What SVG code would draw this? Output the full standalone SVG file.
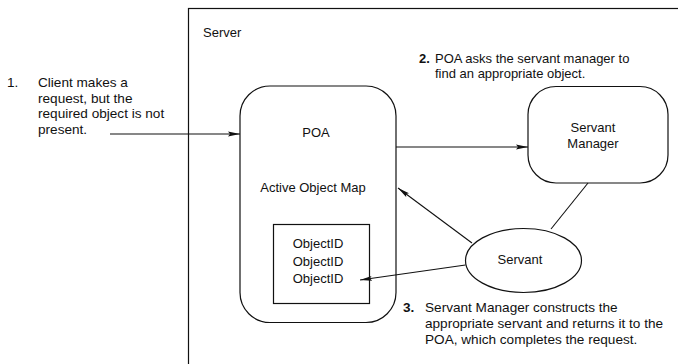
<svg xmlns="http://www.w3.org/2000/svg" width="678" height="364" viewBox="0 0 678 364">
<style>
  text { font-family: "Liberation Sans", Arial, sans-serif; font-size: 13px; fill: #111; }
  .c { text-anchor: middle; }
  .b { font-weight: bold; }
  .w { font-size: 13.6px; }
  .shape { fill: #fff; stroke: #111; stroke-width: 1.2; }
  .edge { fill: none; stroke: #111; stroke-width: 1.1; }
</style>
<defs>
  <marker id="ah" viewBox="0 0 12 6" refX="12" refY="3" markerWidth="12" markerHeight="6" markerUnits="userSpaceOnUse" orient="auto">
    <path d="M0,0.6 L12,3 L0,5.4 L2,3 Z" fill="#111"/>
  </marker>
</defs>
<rect width="678" height="364" fill="#fff"/>
<g id="server">
  <rect class="shape" x="188.5" y="8.5" width="520" height="380"/>
  <text x="203" y="37">Server</text>
</g>
<g id="poa">
  <rect class="shape" x="240" y="86" width="156" height="236.5" rx="30" ry="30"/>
  <text class="c" x="316" y="137">POA</text>
  <text class="c" x="313" y="192">Active Object Map</text>
</g>
<g id="object-ids">
  <rect class="shape" x="273.5" y="224.5" width="96" height="79"/>
  <text class="c" x="318" y="248">ObjectID</text>
  <text class="c" x="318" y="266">ObjectID</text>
  <text class="c" x="318" y="283">ObjectID</text>
</g>
<g id="servant-manager">
  <rect class="shape" x="528" y="86.5" width="140" height="96.5" rx="28" ry="28"/>
  <text class="c" x="593" y="132">Servant</text>
  <text class="c" x="593" y="148">Manager</text>
</g>
<g id="servant">
  <ellipse class="shape" cx="523.5" cy="260.5" rx="58" ry="32"/>
  <text class="c" x="520" y="264">Servant</text>
</g>
<g id="connectors">
  <line class="edge" x1="110" y1="134" x2="240" y2="134" marker-end="url(#ah)"/>
  <line class="edge" x1="396" y1="147" x2="528" y2="147" marker-end="url(#ah)"/>
  <line class="edge" x1="588" y1="183" x2="551" y2="229"/>
  <line class="edge" x1="472" y1="243" x2="398" y2="188" marker-end="url(#ah)"/>
  <line class="edge" x1="465.5" y1="265" x2="360" y2="280" marker-end="url(#ah)"/>
</g>
<g id="notes">
  <text class="w" x="7" y="87">1.</text>
  <text class="w" x="38" y="87">Client makes a</text>
  <text class="w" x="38" y="103">request, but the</text>
  <text class="w" x="38" y="118">required object is not</text>
  <text class="w" x="38" y="134">present.</text>
  <text class="b" x="419" y="63">2.</text>
  <text x="435" y="63">POA asks the servant manager to</text>
  <text x="435" y="78">find an appropriate object.</text>
  <text class="b w" x="403" y="312">3.</text>
  <text class="w" x="425" y="312">Servant Manager constructs the</text>
  <text class="w" x="425" y="328">appropriate servant and returns it to the</text>
  <text class="w" x="425" y="344">POA, which completes the request.</text>
</g>
</svg>
